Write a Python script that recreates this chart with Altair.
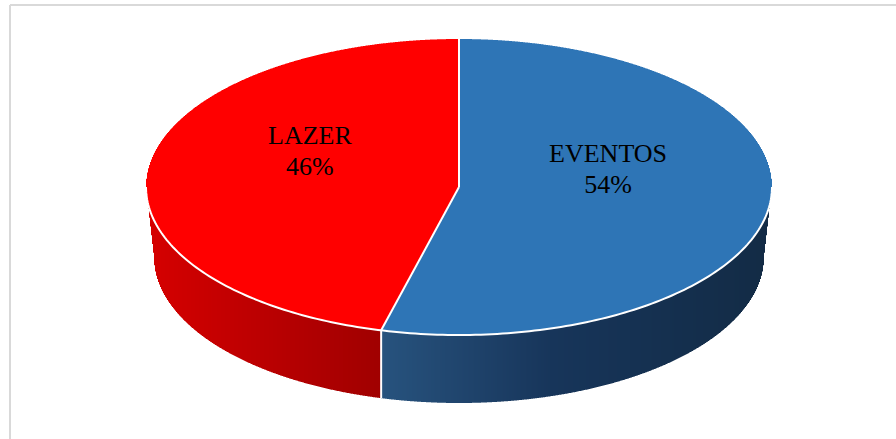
import math
import pandas as pd
import altair as alt

# ---- data ----
categories = ["EVENTOS", "LAZER"]
values = [54, 46]

# ---- styles ----
top_colors = ["#2E75B6", "#FF0000"]
side_red = ["#D60000", "#A00000"]
side_blue = ["#27537E", "#17355A", "#132B45"]
FONT = "Liberation Serif"

# ---- layout (view is offset by padding) ----
W, H = 886, 434
X_RANGE = [136, 762]      # pie ellipse horizontal extent (px in view)
Y_RANGE = [34, 330]       # pie ellipse vertical extent (px in view)
N_COLS = X_RANGE[1] - X_RANGE[0]
DEPTH = 70 / 148          # thickness in ellipse units
RX_B = 305 / 313          # bottom ellipse relative radii (perspective)
RY_B = 146 / 148
LABEL_R = 0.48
LABEL_SHIFT = 27 / 148

total = sum(values)
phi_b = 2 * math.pi * values[0] / total
sb, cb = math.sin(phi_b), math.cos(phi_b)


def side_bottom(u):
    au = abs(u)
    if au <= RX_B:
        return DEPTH + RY_B * math.sqrt(max(0.0, 1 - (u / RX_B) ** 2))
    return DEPTH * (1 - au) / (1 - RX_B)


top_rows, side_rows = [], []
for k in range(N_COLS):
    u0 = -1 + 2 * k / N_COLS
    u1 = -1 + 2 * (k + 1) / N_COLS
    um = (u0 + u1) / 2
    vt = math.sqrt(max(0.0, 1 - um * um))
    if um >= 0:
        top_rows.append(dict(u0=u0, u1=u1, v0=-vt, v1=vt, cat=categories[0]))
    elif um < sb:
        top_rows.append(dict(u0=u0, u1=u1, v0=-vt, v1=vt, cat=categories[1]))
    else:
        vline = um * (-cb / sb)
        top_rows.append(dict(u0=u0, u1=u1, v0=-vt, v1=min(vline, vt), cat=categories[1]))
        if vline < vt:
            top_rows.append(dict(u0=u0, u1=u1, v0=vline, v1=vt, cat=categories[0]))
    side_rows.append(dict(u0=u0, u1=u1, um=um, v0=0.0, v1=side_bottom(um),
                          cat=categories[1] if um < sb else categories[0]))

top_df = pd.DataFrame(top_rows)
side_df = pd.DataFrame(side_rows)

# white separator lines
line_rows = []
for i, (u, v) in enumerate([(0, -1), (0, 0)]):
    line_rows.append(dict(seg="r1", i=i, u=u, v=v))
for i, (u, v) in enumerate([(0, 0), (sb, -cb)]):
    line_rows.append(dict(seg="r2", i=i, u=u, v=v))
for i, (u, v) in enumerate([(sb, -cb), (sb, side_bottom(sb))]):
    line_rows.append(dict(seg="seam", i=i, u=u, v=v))
for i in range(181):
    ph = math.radians(90 + i)
    line_rows.append(dict(seg="rim", i=i, u=math.sin(ph), v=-math.cos(ph)))
lines_df = pd.DataFrame(line_rows)

# labels at slice mid angles
lab_rows = []
start = 0.0
for c, v in zip(categories, values):
    a0 = 2 * math.pi * start / total
    a1 = 2 * math.pi * (start + v) / total
    mid = (a0 + a1) / 2
    lab_rows.append(dict(cat=c, pct=f"{round(100 * v / total)}%",
                         u=math.sin(mid) * LABEL_R,
                         v=-math.cos(mid) * LABEL_R - LABEL_SHIFT))
    start += v
lab_df = pd.DataFrame(lab_rows)

xs = alt.Scale(domain=[-1, 1], range=X_RANGE, nice=False, zero=False)
ys = alt.Scale(domain=[-1, 1], range=Y_RANGE, nice=False, zero=False)

side_red_layer = alt.Chart(side_df).transform_filter(
    alt.datum.cat == categories[1]
).mark_rect(strokeWidth=0).encode(
    x=alt.X("u0:Q", scale=xs, axis=None), x2="u1:Q",
    y=alt.Y("v0:Q", scale=ys, axis=None), y2="v1:Q",
    color=alt.Color("um:Q", scale=alt.Scale(domain=[-1, sb], range=side_red), legend=None),
)
side_blue_layer = alt.Chart(side_df).transform_filter(
    alt.datum.cat == categories[0]
).mark_rect(strokeWidth=0).encode(
    x=alt.X("u0:Q", scale=xs, axis=None), x2="u1:Q",
    y=alt.Y("v0:Q", scale=ys, axis=None), y2="v1:Q",
    color=alt.Color("um:Q", scale=alt.Scale(domain=[sb, 0.3, 1], range=side_blue), legend=None),
)
top_layer = alt.Chart(top_df).mark_rect(strokeWidth=0).encode(
    x=alt.X("u0:Q", scale=xs, axis=None), x2="u1:Q",
    y=alt.Y("v0:Q", scale=ys, axis=None), y2="v1:Q",
    color=alt.Color("cat:N", scale=alt.Scale(domain=categories, range=top_colors), legend=None),
)
lines_layer = alt.Chart(lines_df).mark_line(color="white", strokeWidth=2).encode(
    x=alt.X("u:Q", scale=xs, axis=None),
    y=alt.Y("v:Q", scale=ys, axis=None),
    detail="seg:N",
    order="i:Q",
)
name_layer = alt.Chart(lab_df).mark_text(
    font=FONT, fontSize=26, baseline="alphabetic", dy=-7, color="black"
).encode(
    x=alt.X("u:Q", scale=xs, axis=None),
    y=alt.Y("v:Q", scale=ys, axis=None),
    text="cat:N",
)
pct_layer = alt.Chart(lab_df).mark_text(
    font=FONT, fontSize=26, baseline="alphabetic", dy=24, color="black"
).encode(
    x=alt.X("u:Q", scale=xs, axis=None),
    y=alt.Y("v:Q", scale=ys, axis=None),
    text="pct:N",
)

one = pd.DataFrame({"k": [0]})
border_top = alt.Chart(one).mark_rule(color="#D9D9D9", strokeWidth=2).encode(
    x=alt.value(0), x2=alt.value(W), y=alt.value(0)
)
border_left = alt.Chart(one).mark_rule(color="#D9D9D9", strokeWidth=2).encode(
    x=alt.value(0), y=alt.value(0), y2=alt.value(H)
)

chart = alt.layer(
    border_top, border_left,
    side_red_layer, side_blue_layer, top_layer, lines_layer, name_layer, pct_layer,
).resolve_scale(color="independent").properties(
    width=W, height=H,
    padding={"left": 10, "top": 5, "right": 0, "bottom": 0},
    autosize="none",
    background="white",
).configure_view(stroke=None)

chart.save("out.html", embed_options={"renderer": "svg", "actions": False})
